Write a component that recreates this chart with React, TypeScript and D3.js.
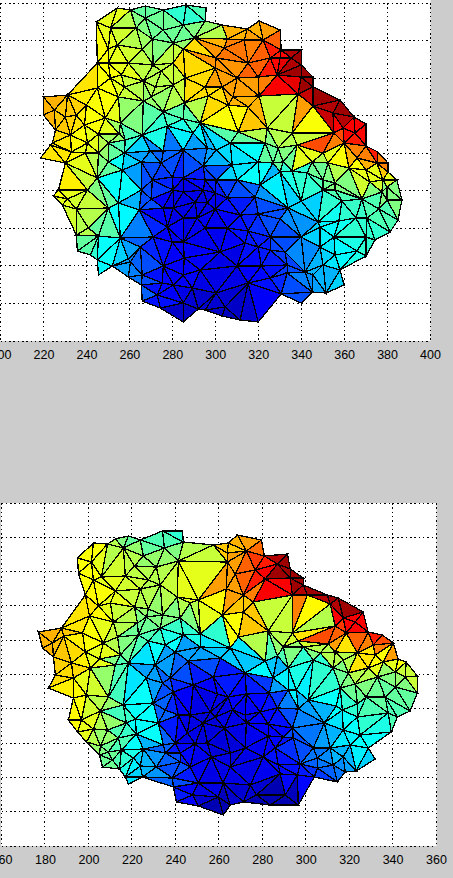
import React, { useEffect, useRef } from "react";
import * as d3 from "d3";

type Node = [number, number, number];

// [x, y, z]. y has no visible labels, so it is just height above the bottom axis
const topOutline: Node[] = [
  [254.4,333,.6],[260.5,331,.5],[267.4,335,.45],[275.8,331,.48],[286.5,336,.4],[295.8,333,.45],[295.3,320,.5],[303.2,316,.55],
  [314.9,312,.7],[320.4,320,.7],[330.2,311,.78],[330.7,291,.85],[340,291,.97],[340,276,.97],[345.5,264,.97],[345.5,254,.97],
  [358.1,241,.97],[364.6,224,.97],[370.2,217,.88],[370.2,195,.85],[375.8,189,.85],[380.4,178,.75],[380.4,169,.68],[384.6,161,.58],
  [386.9,141,.5],[385.1,121,.45],[381.4,109,.45],[374.4,101,.42],[370.2,85,.42],[358.1,71,.37],[360,56,.33],[351.6,48,.28],
  [345.1,49,.25],[340,38,.2],[330.7,47,.16],[320,19,.08],[311.6,21,.06],[303.2,25,.06],[295.3,31,.08],[292.1,32,.08],
  [285.1,19,.04],[274.4,33,.14],[266,40,.22],[265.6,56,.24],[259.5,64,.28],[252.1,75,.33],[245.6,66,.37],[245.1,81,.38],
  [241.9,86,.42],[235.8,90,.47],[235.3,106,.55],[228.8,136,.6],[224.6,145,.62],[227,151,.64],[230.2,178,.65],[218.6,183,.65],
  [224.2,198,.66],[225.6,211,.68],[220,226,.7],[220,244,.7],[231.2,246,.68],[245.1,278,.65],[244.6,319,.62],
];
const topInner: Node[] = [
  [251.2,313,.6],[263.2,313,.55],[267.4,323,.47],[275.8,311,.48],[285.1,316,.42],[290.2,303,.52],[280.4,298,.48],[270.7,302,.5],
  [254.4,296,.58],[266,292,.53],[250.2,292,.6],[259.5,278,.6],[250.2,278,.62],[271.1,276,.56],[274.9,270,.55],[280.4,278,.57],
  [285.1,292,.66],[286,263,.66],[300.4,283,.73],[300,273,.75],[304.2,293,.76],[266.5,260,.55],[256.3,266,.6],[251.2,263,.62],
  [257.7,254,.57],[272.1,254,.55],[280.4,256,.57],[254.9,244,.6],[266.5,240,.52],[270.2,244,.52],[285.6,238,.55],[295.3,254,.66],
  [303.2,254,.72],[296.7,245,.66],[306,236,.66],[275.8,229,.46],[285.1,222,.44],[293,218,.46],[277.7,215,.4],[248.8,223,.62],
  [240,236,.64],[245.1,253,.62],[235.3,226,.67],[225.1,231,.7],[230.2,224,.68],[239.1,216,.62],[255.8,218,.5],[232.6,206,.65],
  [245.6,207,.6],[255.3,207,.53],[223.3,196,.65],[240.5,198,.6],[250.2,198,.52],[233,189,.63],[239.5,188,.6],[245.6,188,.55],
  [257.7,188,.33],[269.8,190,.26],[275.8,190,.22],[285.1,191,.24],[289.7,208,.36],[296.3,193,.28],[300.4,191,.3],[307,198,.34],
  [245.1,163,.5],[250.2,179,.47],[256.7,171,.38],[265.6,179,.28],[274.9,178,.2],[280,164,.16],[285.1,163,.13],[294.4,175,.2],
  [270.7,161,.18],[295.3,161,.15],[300.4,161,.18],[310.2,161,.22],[231.2,142,.6],[240.5,151,.57],[235.3,132,.58],[240.9,113,.55],
  [250.2,133,.47],[245.6,105,.46],[255.8,103,.38],[254.9,138,.38],[264.6,131,.3],[270.2,142,.2],[265.6,151,.2],[280.4,151,.1],
  [285.1,149,.09],[294.4,151,.1],[300,148,.11],[305.6,143,.15],[318.6,144,.2],[275.8,133,.12],[280.4,133,.1],[290.7,139,.1],
  [296.3,138,.1],[300,132,.11],[311.6,126,.14],[320,127,.17],[333.9,133,.27],[285.1,123,.1],[291.6,123,.1],[277.7,114,.12],
  [295.3,113,.11],[305.6,113,.12],[315.3,110,.15],[325.6,104,.2],[271.1,104,.16],[265.1,94,.22],[280,99,.12],[285.1,99,.12],
  [302.3,89,.1],[313.9,98,.14],[320,94,.15],[325.6,91,.15],[332.5,89,.19],[275.8,75,.14],[260.5,79,.25],[293,71,.12],
  [285.1,66,.12],[310.2,75,.1],[321.4,75,.13],[333.5,76,.18],[266,66,.2],[259.5,82,.28],[275.3,58,.13],[285.6,83,.12],
  [273,46,.14],[280.4,56,.12],[285.1,38,.07],[300.4,48,.08],[289.3,53,.1],[304.6,34,.07],[315.3,58,.12],[325.6,63,.14],
  [333.5,68,.2],[341.8,69,.26],[345.5,66,.3],[350.2,76,.3],[340,104,.26],[330.2,122,.2],[340,140,.33],[347.9,119,.33],
  [348.8,114,.36],[348.8,94,.33],[355.8,86,.35],[355.3,104,.37],[357.6,120,.39],[365.5,123,.43],[370.7,123,.42],[370.2,104,.42],
  [366,90,.4],[359,140,.42],[350.2,151,.45],[368.3,142,.45],[376.2,132,.45],[377.6,149,.5],[355.8,151,.5],[380,141,.5],
  [320,179,.38],[323.2,198,.47],[322.3,301,.72],[305.6,302,.7],[313.5,301,.75],[315.3,278,.78],[325.6,283,.85],[330.2,283,.87],
  [335.3,283,.95],[320,264,.78],[328.8,266,.9],[340,264,.97],[338.6,247,.72],[320.4,245,.72],[345.5,235,.93],[354.8,228,.95],
  [355.3,208,.8],[360,198,.75],[359.5,213,.88],[365.1,208,.87],[366,183,.7],[370.2,171,.6],[375.3,178,.75],[362.3,173,.62],
  [350.2,188,.6],[335.8,208,.55],[329.3,193,.5],[324.2,213,.55],[310.7,209,.62],[315.3,234,.7],[308.3,244,.7],[310.2,263,.72],
  [326.9,178,.47],[331.6,179,.48],[335.8,170,.42],[342.8,168,.42],[345.1,179,.48],[352.5,178,.55],[355.8,158,.5],[350.2,161,.48],
  [307.9,176,.35],[320.9,156,.36],[330.2,169,.4],[372,159,.58],[378.1,161,.6],[380,154,.5],
  [266,206,.42],[258.1,201,.45],[338.1,196,.6],
];
// [x, y, z] spots inside big triangles whose flat colour differs from their corners
const topFaces: Node[] = [
  [327.9,231,.57],[341.8,221,.62],[316.3,219,.68],[325.6,251,.88],[323.2,256,.75],[334.9,266,.97],[339.5,256,.97],
  [347.9,198,.8],[339.5,201,.57],[339.5,191,.6],[316.3,171,.38],[324.2,168,.3],[260.5,121,.37],[259,109,.25],[305.6,168,.33],
  [332.5,223,.57],[310.7,226,.63],[318.6,201,.47],[325.6,201,.5],
];

const bottomOutline: Node[] = [
  [195,288,.62],[202.3,303,.62],[208.8,302,.55],[212.4,307,.5],[218.4,310,.47],[223.9,306,.47],[234.1,315,.42],[243.3,315,.4],
  [243.7,304,.5],[257.5,301,.55],[264.4,303,.68],[268.6,311,.7],[279.6,306,.77],[281,290,.82],[291.6,292,.97],[292.9,277,.97],
  [298.9,268,.97],[298.9,261,.97],[315,248,.97],[326.5,234,.97],[328.8,214,.88],[335.3,211,.85],[340.3,203,.8],[342.6,187,.72],
  [346.3,184,.62],[351.4,170,.57],[351.4,153,.5],[348.1,135,.45],[342.2,129,.45],[339.4,114,.4],[328.8,98,.38],[332,87,.33],
  [323.3,75,.28],[318.2,74,.24],[314.6,64,.18],[304,69,.15],[296.6,41,.06],[283.7,41,.05],[271.3,44,.08],[265.3,41,.06],
  [262.1,31,.03],[250.6,40,.08],[240.5,44,.15],[239.1,59,.22],[224.9,69,.3],[218.4,62,.35],[217,69,.36],[214.3,77,.42],
  [206.5,79,.48],[205.1,91,.5],[199.1,104,.55],[195,114,.6],[190.8,126,.63],[193.1,148,.63],[181.6,158,.64],[184.8,171,.67],
  [183.9,189,.69],[178.9,198,.7],[177,214,.7],[187.6,218,.68],[198.6,251,.65],[195.4,273,.62],
];
const bottomInner: Node[] = [
  [201.4,284,.62],[206,269,.6],[202.3,266,.62],[216.1,298,.55],[225.3,290,.52],[235,298,.45],[241.4,285,.57],[231.3,279,.52],
  [221.2,280,.56],[217,270,.58],[227.6,266,.55],[233.1,261,.55],[212.4,255,.6],[223.9,257,.57],[210.1,243,.6],[204.6,240,.63],
  [200.5,230,.65],[221.2,239,.55],[227.6,237,.52],[226.7,229,.5],[234.1,231,.5],[242.3,228,.5],[246.9,243,.55],[240.9,249,.6],
  [250.6,246,.6],[261.7,231,.62],[251.5,212,.42],[243.7,211,.4],[233.1,218,.43],[222.6,223,.47],[211.5,224,.57],[197.3,213,.62],
  [183.5,203,.7],[188.6,210,.68],[192.2,183,.66],[198.6,194,.64],[205.1,187,.6],[206.9,203,.6],[213.4,209,.55],[223,211,.48],
  [227.6,205,.45],[214.7,191,.5],[200.9,178,.6],[193.1,168,.66],[218.4,183,.35],[230.8,181,.28],[240,194,.28],[235.4,201,.38],
  [246,185,.2],[251.5,199,.28],[260.7,188,.32],[257.5,169,.15],[237.7,168,.22],[226.7,168,.28],[212.4,181,.45],[272.7,295,.72],
  [264,293,.68],[264,284,.72],[267.6,272,.78],[276.8,276,.85],[287,282,.95],[292.9,268,.97],[281.4,267,.88],[263.5,257,.72],
  [271.3,251,.72],[275.9,244,.68],[293.9,251,.75],[300.8,251,.95],[310,251,.97],[311.3,242,.95],[317.3,228,.88],[313.6,220,.82],
  [322.8,224,.88],[318.7,213,.78],[331.1,201,.75],[323.8,193,.65],[313.6,194,.55],[310.4,202,.72],[296.6,205,.58],[289.7,199,.52],
  [293.9,213,.65],[282.8,215,.55],[269.1,209,.62],[271.3,234,.68],[265.3,198,.35],[281.4,185,.32],[287,190,.45],[292,178,.4],
  [298.9,199,.5],[306.7,193,.55],[303.5,186,.42],[312.7,178,.42],[317.3,186,.55],[332,191,.62],[328.8,178,.65],[335.7,184,.6],
  [341.2,174,.52],[319.6,173,.5],[333,169,.5],[285,168,.28],[272.2,173,.15],[345.8,169,.57],[295.7,156,.36],[314.1,140,.38],
  [323.8,142,.42],[336.6,149,.47],[341.2,159,.47],[338,133,.45],[327.9,149,.48],[322.8,162,.55],[315.9,158,.48],[316.9,136,.38],
  [323.8,129,.42],[308.6,123,.28],[301.2,146,.3],[292,156,.36],[283.3,153,.18],[272.7,152,.12],[266.3,136,.1],[279.1,134,.13],
  [272.2,131,.11],[293.9,118,.2],[296.6,137,.25],[282.8,122,.12],[272.7,123,.11],[262.6,118,.1],[317.3,116,.35],[325.1,111,.38],
  [311.3,98,.3],[320.5,101,.36],[303.5,98,.24],[294.3,108,.2],[289.7,109,.13],[282.8,110,.12],[286,98,.14],[272.2,98,.09],
  [265.3,93,.08],[280.5,89,.11],[287.4,81,.14],[297.5,82,.17],[305.4,88,.24],[305.4,78,.22],[312.7,81,.26],[317.3,89,.3],
  [265.3,79,.1],[288.3,72,.13],[296.2,71,.13],[274.5,61,.08],[277.4,51,.05],[290.6,51,.05],[262,63,.1],[209.2,149,.52],
  [199.1,151,.58],[216.1,141,.44],[205.5,135,.55],[196.8,126,.62],[202.3,117,.6],[208.8,116,.52],[217.5,123,.43],[222.1,112,.38],
  [213.8,108,.45],[205.5,100,.52],[209.2,94,.48],[215.2,96,.45],[211.1,86,.48],[220.7,88,.4],[225.3,97,.3],[223.9,80,.33],
  [231.3,79,.27],[235.4,93,.22],[234.5,101,.22],[229.9,143,.38],[235.4,136,.22],[221.6,127,.38],[232.2,123,.22],[238.7,68,.2],
  [246.9,79,.15],[247.9,51,.12],[241.4,131,.12],[246.9,131,.1],[245.6,113,.1],[240,103,.15],[254.8,103,.09],[252.9,123,.09],
  [259.4,152,.1],[248.3,161,.12],[239.1,154,.16],[256.6,89,.11],[250.6,63,.1],[259.8,49,.05],[258.4,129,.09],[242.3,84,.2],
  [234.1,163,.2],[264.4,149,.13],[256.1,134,.09],[249.2,102,.1],[242.3,93,.13],[287,138,.14],
];
const bottomFaces: Node[] = [
  [282.4,236,.57],[303.5,231,.63],[274.5,226,.68],[283.7,253,.88],[279.1,258,.75],[287,273,.97],[305.4,211,.8],
  [302.1,216,.55],[280,174,.37],[287,171,.3],[226.7,116,.38],[229.4,108,.25],[290.2,231,.57],
];

const topXTicks = [200, 220, 240, 260, 280, 300, 320, 340, 360, 380, 400];
const bottomXTicks = [160, 180, 200, 220, 240, 260, 280, 300, 320, 340, 360];

const jet = d3.scaleLinear<string>()
  .domain([0, .125, .375, .625, .875, 1])
  .range(["#000080", "#0000ff", "#00ffff", "#ffff00", "#ff0000", "#800000"])
  .clamp(true);

function Panel({ outline, inner, faces, xTicks, rowCount, left, right, top, bottom, boxLeft }: any) {
  const axisRef = useRef<SVGGElement>(null);
  const x = d3.scaleLinear().domain([xTicks[0], xTicks[xTicks.length - 1]]).range([left, right]);
  const yMax = bottom - top;
  const y = d3.scaleLinear().domain([0, yMax]).range([bottom, top]);
  const yTicks = d3.range(0, rowCount + 1).map((i) => (i * yMax) / rowCount);

  const nodes: Node[] = [...outline, ...inner];
  const delaunay = d3.Delaunay.from(nodes, (n) => x(n[0]), (n) => y(n[1]));
  const hull = outline.map((n: Node) => [x(n[0]), y(n[1])] as [number, number]);
  const tris: { d: string; fill: string }[] = [];
  const t = delaunay.triangles;
  for (let i = 0; i < t.length; i += 3) {
    const corners = [nodes[t[i]], nodes[t[i + 1]], nodes[t[i + 2]]];
    const pts = corners.map((n) => [x(n[0]), y(n[1])] as [number, number]);
    if (!d3.polygonContains(hull, d3.polygonCentroid(pts))) continue;
    // flat colour per face; a listed spot inside the face wins over its corners
    const spot = faces.find((f: Node) => d3.polygonContains(pts, [x(f[0]), y(f[1])]));
    const z = spot ? spot[2] : d3.median(corners, (n) => n[2])!;
    tris.push({ d: d3.line()(pts) + "Z", fill: jet(z) });
  }

  useEffect(() => {
    const g = d3.select(axisRef.current);
    g.selectAll("*").remove();
    g.call(d3.axisBottom(x).tickValues(xTicks).tickSize(0).tickPadding(9) as any);
    g.select(".domain").remove();
    g.selectAll("text")
      .attr("font-family", "'Liberation Sans', Arial, sans-serif")
      .attr("font-size", 12.5)
      .attr("fill", "#000");
  }, []);

  return (
    <g>
      <rect x={boxLeft} y={top === 3 ? 0 : top} width={right + 0.5 - boxLeft} height={bottom - (top === 3 ? 0 : top)} fill="#fff" />
      <g stroke="#000" strokeDasharray="1.5 2.8" shapeRendering="crispEdges">
        {xTicks.map((v: number) => (
          <line key={v} x1={x(v)} x2={x(v)} y1={top} y2={bottom} />
        ))}
        {yTicks.map((v: number) => (
          <line key={v} x1={left} x2={right} y1={y(v)} y2={y(v)} />
        ))}
      </g>
      <g stroke="#000" strokeWidth={1.3} shapeRendering="crispEdges">
        {tris.map((tr, i) => (
          <path key={i} d={tr.d} fill={tr.fill} />
        ))}
      </g>
      <g ref={axisRef} transform={`translate(0,${bottom})`} />
    </g>
  );
}

export default function App() {
  return (
    <svg
      width={453}
      height={878}
      style={{ position: "absolute", left: 0, top: 0, background: "#cccccc" }}
    >
      <Panel outline={topOutline} inner={topInner} faces={topFaces} xTicks={topXTicks} rowCount={9}
        left={0.5} right={430} top={3} bottom={341} boxLeft={0} />
      <Panel outline={bottomOutline} inner={bottomInner} faces={bottomFaces} xTicks={bottomXTicks} rowCount={10}
        left={1.5} right={436} top={503} bottom={846} boxLeft={1} />
    </svg>
  );
}
